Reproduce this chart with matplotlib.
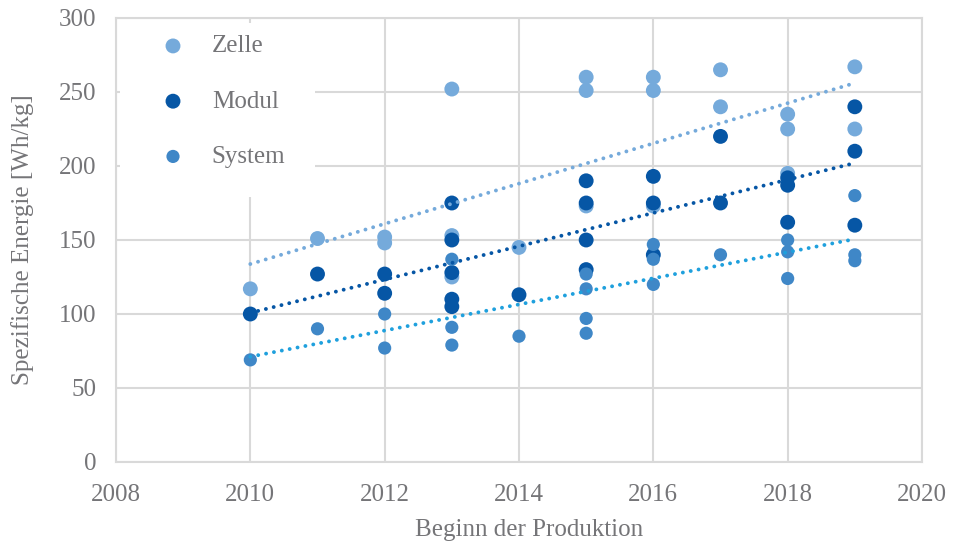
import numpy as np
import matplotlib
matplotlib.use("Agg")
import matplotlib.pyplot as plt
from matplotlib.patches import Rectangle

# Data
zelle_x = [2010, 2011, 2012, 2012, 2013, 2013, 2013, 2014, 2015, 2015, 2015,
           2016, 2016, 2016, 2017, 2017, 2018, 2018, 2018, 2019, 2019]
zelle_y = [117, 151, 152, 148, 252, 153, 125, 145, 260, 251, 173,
           260, 251, 173, 265, 240, 235, 225, 195, 267, 225]

modul_x = [2010, 2011, 2012, 2012, 2013, 2013, 2013, 2013, 2013, 2014,
           2015, 2015, 2015, 2015, 2016, 2016, 2016, 2017, 2017,
           2018, 2018, 2018, 2019, 2019, 2019]
modul_y = [100, 127, 127, 114, 175, 150, 128, 110, 105, 113,
           190, 175, 150, 130, 193, 175, 140, 220, 175,
           192, 187, 162, 240, 210, 160]

system_x = [2010, 2011, 2012, 2012, 2013, 2013, 2013, 2014,
            2015, 2015, 2015, 2015, 2016, 2016, 2016, 2017,
            2018, 2018, 2018, 2019, 2019, 2019]
system_y = [69, 90, 100, 77, 137, 91, 79, 85,
            127, 117, 97, 87, 147, 137, 120, 140,
            150, 142, 124, 180, 140, 136]

x_ticks = [2008, 2010, 2012, 2014, 2016, 2018, 2020]
y_ticks = [0, 50, 100, 150, 200, 250, 300]

c_zelle = "#75AADB"
c_modul = "#0656A5"
c_system = "#3F87C7"
c_system_trend = "#1FA0DD"
grid_c = "#D9D9D9"
text_c = "#757578"
FS = 18

plt.rcParams['font.family'] = ['Liberation Serif', 'DejaVu Serif']

fig = plt.figure(figsize=(9.54, 5.43), dpi=100)
L, R, T, B = 116, 922, 18, 462
ax = fig.add_axes([L/954, 1-B/543, (R-L)/954, (B-T)/543])

ax.scatter(zelle_x, zelle_y, s=115, color=c_zelle, edgecolors='none', zorder=3, label="Zelle")
ax.scatter(modul_x, modul_y, s=115, color=c_modul, edgecolors='none', zorder=4, label="Modul")
ax.scatter(system_x, system_y, s=90, color=c_system, edgecolors='none', zorder=5, label="System")

def trend(xs, ys, color):
    xs = np.array(xs, float); ys = np.array(ys, float)
    k, d = np.polyfit(xs, ys, 1)
    xx = np.array([xs.min(), xs.max()])
    ax.plot(xx, k*xx + d, color=color, lw=2.8, linestyle=(0, (0.01, 2.05)),
            dash_capstyle='round', zorder=6)

trend(zelle_x, zelle_y, c_zelle)
trend(modul_x, modul_y, c_modul)
trend(system_x, system_y, c_system_trend)

ax.set_xlim(2008, 2020)
ax.set_ylim(0, 300)
ax.set_xticks(x_ticks)
ax.set_yticks(y_ticks)
ax.grid(True, color=grid_c, lw=1.5, zorder=0)
ax.set_axisbelow(True)
for s in ax.spines.values():
    s.set_color(grid_c)
    s.set_linewidth(1.5)
ax.tick_params(length=0, labelsize=FS, colors=text_c)
ax.tick_params(axis='y', pad=14)
ax.tick_params(axis='x', pad=16)
ax.set_xlabel("Beginn der Produktion", fontsize=FS, color=text_c, labelpad=9, x=(529-L)/(R-L))
ax.set_ylabel("Spezifische Energie [Wh/kg]", fontsize=FS, color=text_c, labelpad=18)

# white legend area covering the grid
ax.add_patch(Rectangle(((120-L)/(R-L), (B-197)/(B-T)), (315-120)/(R-L), (197-23)/(B-T),
                       transform=ax.transAxes, facecolor='white', edgecolor='none', zorder=1.5))

leg = ax.legend(loc='upper left', bbox_to_anchor=((148-L)/(R-L), (B-35)/(B-T)), frameon=False,
                fontsize=FS, labelspacing=1.31, handletextpad=0.55,
                borderpad=0.0, borderaxespad=0.0, markerscale=1.0)
for t in leg.get_texts():
    t.set_color(text_c)
leg.set_zorder(10)

fig.savefig("out.png", dpi=100)
